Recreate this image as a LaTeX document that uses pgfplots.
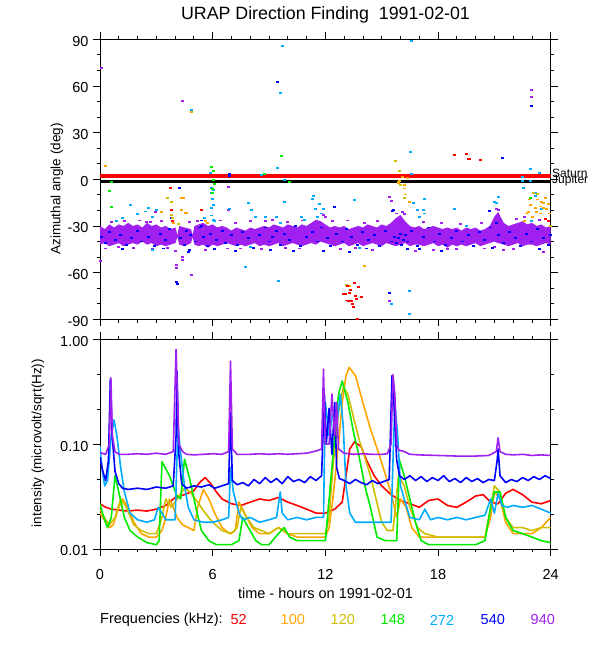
\documentclass[border=0pt]{standalone}
\usepackage{fontspec}
\setmainfont{Liberation Sans}
\usepackage{pgfplots}
\pgfplotsset{compat=1.18}
\usepackage{pgfplotstable}
\definecolor{cA}{RGB}{255,0,0}
\definecolor{cB}{RGB}{255,165,0}
\definecolor{cC}{RGB}{205,190,0}
\definecolor{cD}{RGB}{0,235,0}
\definecolor{cE}{RGB}{0,170,255}
\definecolor{cF}{RGB}{0,0,255}
\definecolor{cG}{RGB}{160,32,240}
\pgfplotsset{
  dm/.style={only marks, mark=-, mark size=1.5pt, mark options={line width=1.9pt}},
  tr/.style={no marks, line width=1.6pt, line join=round},
  common/.style={scale only axis, width=450.7pt, xmin=0, xmax=24,
    xtick={0,6,12,18,24}, minor xtick={0,1,...,24},
    tick align=outside, major tick length=7pt, minor tick length=3.5pt,
    every tick/.style={black, line width=0.8pt},
    axis line style={line width=0.8pt},
    ticklabel style={font=\fontsize{14.5}{16}\selectfont},
    yticklabel style={yshift=-2pt, xshift=-1pt},
    xticklabel style={yshift=-10pt},
    /pgf/number format/assume math mode=true},
}
\pgfplotstableread{
h y
0 -30
0.25 -32
0.5 -29
0.75 -31
1.0 -29
1.25 -30
1.5 -28
1.75 -30
2.0 -29
2.25 -31
2.5 -28
2.75 -30
3.0 -29
3.25 -31
3.5 -30
3.75 -32
4.02 -31
4.12 -36
4.22 -30
4.5 -31
4.85 -32
4.93 -36
5.03 -30
5.25 -29
5.5 -28
5.75 -30
6.0 -29
6.25 -31
6.5 -30
6.75 -31
7.0 -33
7.25 -31
7.5 -32
7.75 -33
8.0 -31
8.25 -32
8.5 -31
8.75 -30
9.0 -31
9.25 -29
9.5 -30
9.75 -31
10.0 -29
10.25 -30
10.5 -31
10.75 -29
11.0 -30
11.25 -28
11.5 -26
11.75 -27
12.0 -29
12.25 -31
12.5 -30
12.75 -31
13.0 -30
13.25 -32
13.5 -31
13.75 -30
14.0 -31
14.25 -29
14.5 -30
14.75 -31
15.0 -29
15.25 -30
15.5 -28
15.75 -25
16.0 -23
16.25 -27
16.5 -30
16.75 -31
17.0 -30
17.25 -32
17.5 -31
17.75 -30
18.0 -31
18.25 -32
18.5 -31
18.75 -32
19.0 -31
19.25 -33
19.5 -31
19.75 -32
20.0 -31
20.25 -33
20.5 -32
20.75 -30
21.0 -24
21.2 -21
21.5 -28
21.75 -30
22.0 -29
22.25 -28
22.5 -27
22.75 -29
23.0 -28
23.25 -30
23.5 -29
23.75 -31
24.0 -30
24.0 -42
23.75 -41
23.5 -42
23.25 -43
23.0 -42
22.75 -42
22.5 -43
22.25 -41
22.0 -42
21.75 -43
21.5 -42
21.2 -41
21.0 -40
20.75 -41
20.5 -42
20.25 -43
20.0 -41
19.75 -42
19.5 -43
19.25 -42
19.0 -43
18.75 -42
18.5 -44
18.25 -42
18.0 -43
17.75 -41
17.5 -42
17.25 -43
17.0 -42
16.75 -42
16.5 -43
16.25 -41
16.0 -42
15.75 -43
15.5 -42
15.25 -41
15.0 -43
14.75 -42
14.5 -41
14.25 -42
14.0 -43
13.75 -41
13.5 -42
13.25 -43
13.0 -41
12.75 -42
12.5 -43
12.25 -42
12.0 -41
11.75 -40
11.5 -42
11.25 -41
11.0 -42
10.75 -43
10.5 -42
10.25 -41
10.0 -42
9.75 -43
9.5 -41
9.25 -42
9.0 -43
8.75 -42
8.5 -43
8.25 -41
8.0 -42
7.75 -43
7.5 -42
7.25 -43
7.0 -42
6.75 -41
6.5 -42
6.25 -43
6.0 -42
5.75 -44
5.5 -42
5.25 -43
5.03 -42
4.93 -37
4.85 -41
4.5 -43
4.22 -42
4.12 -37
4.02 -41
3.75 -42
3.5 -43
3.25 -42
3.0 -43
2.75 -41
2.5 -42
2.25 -40
2.0 -42
1.75 -41
1.5 -42
1.25 -43
1.0 -41
0.75 -42
0.5 -43
0.25 -41
0 -42
}\bandtab
\begin{document}
\begin{tikzpicture}
\useasboundingbox (0pt,0pt) rectangle (600pt,650pt);
% ---------------- top panel
\begin{axis}[common, at={(100pt,330.7pt)}, anchor=south west, height=280pt,
  ymin=-90, ymax=90, ytick={-90,-60,-30,0,30,60,90},
  yticklabels={-90,-60,-30,0,30,60,90}, minor ytick={-80,-70,...,80},
  xticklabels={}]
\addplot[cA, line width=3.6pt, forget plot] coordinates {(0,2.1) (24,2.1)};
\addplot[black, line width=2.8pt, forget plot] coordinates {(0,-1.4) (24,-1.4)};
\addplot[fill=cG, draw=none, forget plot] table[x=h,y=y]{\bandtab} -- cycle;
% purple edge / outliers
\addplot[dm, cG] coordinates {
(0.07,71.4)(4.39,50.5)(22.99,57.2)(22.99,52.7)(0.05,-52.3)(4.0,-45.9)(4.38,-49.8)(4.38,-51.9)
(4.08,-55)(4.05,-57.2)(4.88,-61.7)(6.83,-5)(6.85,-20)(2.93,-20.8)(4.74,-27.2)(15.44,-11.2)
(15.5,-13.8)(15.44,-78.3)(17.75,-45.5)(21.5,-45.5)(12.0,-24)(11.9,-23)(2.5,-27.5)(8.8,-27)
(16.1,-21)(16.2,-22.5)(21.1,-19)(21.2,-20)
(0.6,-27.5)(1.3,-27)(2.1,-26.5)(2.7,-27.5)(3.3,-27)(5.2,-27)(6.4,-26.5)(7.2,-28)(8.0,-27)
(9.2,-26)(10.0,-27.5)(10.8,-26.5)(12.4,-27)(13.2,-26.5)(14.1,-28)(14.8,-27)(17.2,-27.5)
(18.2,-28)(19.2,-29)(20.3,-28)(22.2,-25.5)(22.6,-24.5)(23.4,-26)(11.6,-24.5)(15.8,-22)
(0.3,-44.5)(1.8,-44)(2.8,-45)(5.6,-45.5)(6.8,-44.5)(8.6,-45)(10.6,-44.5)(12.8,-45)(14.5,-45.5)
(16.8,-46)(19.0,-45)(20.5,-44.5)(22.0,-45)(23.6,-46.5)(1.0,-43.5)(3.6,-44)(7.5,-44.5)(9.9,-44)
(13.6,-44)(18.5,-45)(21.0,-43.5)};
% blue 540
\addplot[dm, cF] coordinates {
(0.1,-37)(0.3,-41)(0.5,-34)(0.8,-39)(1.1,-36)(1.4,-42)(1.7,-38)(2.0,-33)(2.2,-40)(2.6,-37)
(2.9,-43)(3.2,-35)(3.5,-39)(3.7,-32)(4.3,-38)(4.5,-42)(4.6,-33)(4.8,-36)(5.1,-40)(5.3,-31)
(5.5,-37)(5.7,-43)(5.9,-35)(6.2,-39)(6.5,-33)(6.7,-41)(7.0,-36)(7.3,-42)(7.6,-34)(7.9,-38)
(8.2,-44)(8.5,-36)(8.8,-31)(9.0,-40)(9.2,-37)(9.4,-33)(9.6,-42)(9.8,-35)(10.1,-39)(10.4,-30)
(10.7,-43)(11.0,-37)(11.3,-34)(11.6,-40)(11.8,-31)(12.1,-38)(12.3,-43)(12.6,-35)(12.9,-40)
(13.1,-32)(13.4,-37)(13.7,-42)(14.0,-34)(14.3,-39)(14.6,-36)(14.9,-43)(15.2,-33)(15.5,-40)
(15.7,-37)(15.8,-41)(15.9,-38)(16.0,-35)(16.05,-42)(16.15,-39)(16.25,-36)(16.35,-40)(16.6,-33)
(16.9,-43)(17.2,-37)(17.5,-31)(17.8,-40)(18.1,-35)(18.4,-42)(18.7,-38)(19.0,-33)(19.3,-40)
(19.6,-36)(19.9,-43)(20.2,-34)(20.5,-39)(20.8,-31)(21.1,-28)(21.2,-36)(21.5,-41)(21.8,-34)
(22.1,-38)(22.4,-43)(22.7,-35)(23.0,-40)(23.3,-32)(23.6,-38)(23.9,-42)(24,-36)
(1.2,-45)(3.4,-44.5)(6.1,-45)(9.1,-45.5)(11.9,-46)(14.2,-44.5)(16.4,-45)(18.2,-46)(20.9,-44)(23.4,-45)
(4.22,-5.8)(6.87,3.4)(6.87,2.1)(9.47,62.3)(22.99,47.1)(4.79,-45.5)(4.15,-67.3)(4.1,-66)
(15.44,-72.9)(12.51,-18)(15.6,-20.2)(15.65,-19.5)(20.73,-20.2)(21.44,13.5)(5.4,-30)(4.7,-46.5)
(7.2,-46)(10.3,-46)(13.3,-46.5)(17,-45)(3.8,-25)(5.4,-26.5)};
% light blue 272
\addplot[dm, cE] coordinates {
(1.65,-16.5)(2.57,-18.6)(2.42,-20.7)(2.0,-22.5)(2.8,-24)(4.87,44.4)(5.59,-25)(5.9,3.9)(5.95,-5.8)
(6.05,-7.0)(5.92,-8.6)(6.0,-12.9)(6.06,-16.5)(5.96,-18.2)(5.93,-23.3)(6.04,-26)(6.1,-27)(6.9,-19)
(7.9,-15)(8.08,-19.7)(8.3,-24)(8.79,-24)(8.6,2.8)(9.46,7.5)(9.62,55.5)(9.71,85.7)(9.85,-0.5)
(9.85,-14.4)(9.4,-24)(9.6,-28)(10.74,-24)(10.9,-26)(11.36,-11)(11.3,-12.5)(11.7,-16)(11.5,-19)
(11.9,-19)(11.6,-24)(11.8,-22)(9.48,-65.2)(7.76,-56.6)(2.79,-45.5)(13.54,-13.3)(16.56,17.6)
(16.6,3.4)(17.27,-12.9)(16.7,-15)(16.9,-20)(17.2,-19.5)(17.3,-22)(17.0,-24)(16.6,89.1)(16.5,-71.6)
(16.5,-86.6)(15.52,-80.2)(18.87,-19.3)(21.2,-11.2)(21.0,-14.6)(21.1,-15.5)(22.54,-5.8)(22.9,6.5)
(23.39,3.9)(22.5,1.5)(22.5,-1.1)(22.95,-1.1)(23.17,-9)(23.2,-11)(22.7,-22)(23.0,-27)(23.5,-19)
(0.9,-27)(1.2,-25)(3.0,-20)(13.8,-44)(19.5,-30)(8.0,-43.5)};
% green 148
\addplot[dm, cD] coordinates {
(0.62,-1.9)(0.51,-7.5)(0.59,-17.6)(5.95,7.7)(6.02,5.5)(6.05,-0.4)(6.08,-3.1)(5.98,-8.6)(6.0,-6)
(8.77,3.2)(9.64,15.0)(10.1,-1.5)(22.93,-12.2)};
% olive 120
\addplot[dm, cC] coordinates {
(3.82,-14.4)(3.83,-22.9)(3.84,-25)(3.6,-12)(15.76,11.8)(15.94,5.3)(15.92,-2.0)(16.0,-3.5)
(16.2,-12)(23.07,-9)(23.3,-9.5)(23.98,-30)(13.1,-68)(4.2,-29)};
% orange 100
\addplot[dm, cB] coordinates {
(0.27,8.7)(3.28,-21.2)(3.9,-27.9)(4.35,-12.2)(4.45,-12.0)(4.35,-19.7)(4.53,-21.8)(4.6,-21.5)
(4.87,43.1)(5.6,-27)(5.7,-28)(13.3,-68.7)(14.11,-55.7)(16.1,1.7)(16.35,1.1)(15.95,-0.9)
(15.9,-2.4)(16.2,-3.4)(16.2,-5.9)(16.25,-9.8)(16.47,-14.4)(22.85,-13)(23.3,-13)(23.5,-14.5)
(23.6,-15.5)(22.95,-16.5)(23.45,-17.5)(23.2,-18.5)(23.6,-18.5)(22.8,-21)(23.25,-21)(23.45,-22)
(22.7,-22)(23.05,-24)(22.6,-27)(23.8,-19)(23.9,-16)(23.95,-22)(23.7,-12)};
% red 52
\addplot[dm, cA] coordinates {
(3.78,-5.8)(3.82,-19.7)(3.85,-26.8)(5.38,-19.7)(13.57,-66.5)(13.75,-69)(13.2,-68.7)(12.96,-73.9)
(13.05,-73.5)(13.3,-73)(13.6,-75)(13.9,-75.6)(13.14,-77.9)(13.25,-78)(13.4,-78.4)(13.65,-77)
(13.5,-82.2)(13.7,-89.7)(13.35,-71)(13.45,-80)(18.9,15.6)(19.49,16)(19.61,12.9)(19.65,13.3)
(20.27,12.4)(23.7,-25.5)(23.9,-27)};
\end{axis}
% ---------------- bottom panel
\begin{axis}[common, at={(100pt,101pt)}, anchor=south west, height=209.7pt,
  ymode=log, ymin=0.01, ymax=1, ytick={0.01,0.1,1}, yticklabels={0.01,0.10,1.00},
  minor ytick={0.0215443,0.0464159,0.215443,0.464159},
  xticklabels={0,6,12,18,24}]
% 52 kHz
\addplot[tr, cA] coordinates {
(0,0.027)(0.3,0.025)(0.6,0.024)(1,0.0235)(1.5,0.023)(2,0.0235)(2.5,0.023)(3,0.024)(3.5,0.026)
(4,0.031)(4.5,0.033)(5,0.036)(5.3,0.043)(5.6,0.048)(5.9,0.042)(6.2,0.035)(6.5,0.03)(7,0.027)
(7.5,0.026)(8,0.028)(8.5,0.03)(9,0.029)(9.5,0.031)(10,0.028)(10.5,0.026)(11,0.024)(11.5,0.022)
(12,0.022)(12.5,0.024)(12.9,0.028)(13.1,0.05)(13.3,0.09)(13.55,0.105)(13.9,0.095)(14.2,0.07)
(14.6,0.05)(15,0.04)(15.5,0.033)(16,0.029)(16.5,0.027)(17,0.025)(17.5,0.029)(18,0.03)(18.5,0.026)
(19,0.025)(19.5,0.028)(20,0.032)(20.4,0.033)(20.8,0.028)(21.2,0.027)(21.6,0.034)(22,0.037)
(22.5,0.033)(23,0.028)(23.5,0.027)(24,0.029)};
% 100 kHz
\addplot[tr, cB] coordinates {
(0,0.022)(0.3,0.018)(0.5,0.016)(0.7,0.017)(1.0,0.025)(1.2,0.03)(1.5,0.025)(1.8,0.018)(2.2,0.014)
(2.6,0.013)(3,0.013)(3.3,0.015)(3.5,0.02)(3.7,0.03)(3.9,0.025)(4.1,0.02)(4.4,0.017)(4.7,0.016)
(5,0.015)(5.2,0.025)(5.5,0.037)(5.8,0.03)(6.1,0.022)(6.5,0.016)(6.9,0.014)(7.2,0.015)(7.4,0.028)
(7.7,0.022)(8.1,0.016)(8.5,0.014)(9,0.014)(9.5,0.016)(10,0.014)(10.5,0.013)(11,0.013)(11.5,0.013)
(12,0.013)(12.2,0.016)(12.4,0.03)(12.7,0.1)(12.9,0.25)(13.1,0.45)(13.27,0.54)(13.6,0.45)
(14,0.25)(14.4,0.14)(14.9,0.076)(15.5,0.034)(15.8,0.02)(16,0.03)(16.3,0.025)(16.6,0.016)
(17,0.013)(18,0.013)(19,0.013)(20,0.013)(20.5,0.013)(20.8,0.02)(21,0.035)(21.3,0.03)(21.6,0.018)
(22,0.014)(22.5,0.014)(23,0.014)(23.5,0.016)(24,0.02)};
% 120 kHz
\addplot[tr, cC] coordinates {
(0,0.024)(0.3,0.019)(0.5,0.017)(0.8,0.02)(1.1,0.03)(1.4,0.025)(1.8,0.017)(2.2,0.015)(2.6,0.014)
(3,0.014)(3.3,0.02)(3.5,0.03)(3.8,0.025)(4.1,0.03)(4.5,0.038)(4.8,0.035)(5.2,0.028)(5.6,0.022)
(6,0.018)(6.5,0.015)(7,0.014)(7.3,0.016)(7.5,0.025)(7.8,0.02)(8.2,0.016)(8.6,0.015)(9,0.014)
(9.5,0.016)(10,0.014)(10.5,0.014)(11,0.014)(11.5,0.014)(12,0.014)(12.2,0.02)(12.4,0.06)
(12.7,0.2)(12.95,0.35)(13.2,0.3)(13.5,0.18)(13.8,0.11)(14.1,0.075)(14.4,0.05)(14.7,0.03)
(15.0,0.018)(15.3,0.015)(15.6,0.015)(15.9,0.05)(16.2,0.04)(16.5,0.025)(16.9,0.016)(17.3,0.014)
(18,0.013)(19,0.013)(20,0.013)(20.5,0.013)(20.8,0.025)(21.0,0.04)(21.3,0.035)(21.6,0.02)
(22,0.016)(22.5,0.016)(23,0.015)(23.5,0.016)(24,0.016)};
% 148 kHz
\addplot[tr, cD] coordinates {
(0,0.027)(0.2,0.02)(0.4,0.016)(0.6,0.02)(0.8,0.05)(1.0,0.035)(1.3,0.02)(1.6,0.015)(2,0.013)
(2.5,0.0115)(3,0.011)(3.15,0.012)(3.3,0.068)(3.7,0.05)(4.1,0.032)(4.3,0.03)(4.5,0.072)(4.8,0.045)
(5.1,0.025)(5.4,0.015)(5.8,0.012)(6.2,0.011)(6.6,0.011)(7,0.011)(7.4,0.012)(7.6,0.02)(7.9,0.016)
(8.3,0.012)(8.6,0.011)(9,0.011)(9.5,0.014)(9.8,0.016)(10.1,0.013)(10.5,0.012)(11,0.012)
(11.5,0.012)(12,0.012)(12.2,0.03)(12.5,0.12)(12.7,0.3)(12.9,0.4)(13.2,0.25)(13.5,0.13)
(13.8,0.076)(14.1,0.04)(14.4,0.025)(14.75,0.013)(15.2,0.012)(15.8,0.012)(15.95,0.07)(16.2,0.05)
(16.5,0.03)(16.8,0.018)(17.1,0.012)(17.5,0.011)(18,0.011)(19,0.011)(20,0.011)(20.5,0.012)
(20.8,0.025)(21.0,0.035)(21.3,0.035)(21.6,0.02)(22,0.015)(22.5,0.014)(23,0.013)(23.5,0.012)
(24,0.0115)};
% 272 kHz
\addplot[tr, cE] coordinates {
(0,0.095)(0.1,0.06)(0.25,0.04)(0.4,0.045)(0.6,0.12)(0.75,0.17)(0.9,0.12)(1.1,0.06)(1.3,0.035)
(1.6,0.022)(2,0.019)(2.5,0.018)(2.9,0.019)(3.1,0.025)(3.3,0.022)(3.5,0.019)(4,0.019)(4.15,0.15)
(4.3,0.08)(4.5,0.04)(4.7,0.025)(5,0.019)(5.5,0.018)(6,0.018)(6.5,0.019)(6.85,0.02)(6.95,0.06)
(7.1,0.035)(7.4,0.022)(7.6,0.019)(8,0.02)(8.5,0.018)(9,0.019)(9.4,0.02)(9.6,0.035)(9.7,0.022)
(10,0.019)(10.5,0.02)(11,0.019)(11.5,0.02)(11.9,0.02)(12.0,0.25)(12.2,0.12)(12.4,0.2)(12.6,0.15)
(12.8,0.3)(12.95,0.15)(13.1,0.04)(13.3,0.022)(13.6,0.018)(14,0.018)(14.5,0.018)(15,0.018)
(15.5,0.018)(15.7,0.25)(15.85,0.12)(16,0.04)(16.2,0.03)(16.5,0.02)(17,0.019)(17.3,0.024)
(17.6,0.019)(18,0.02)(18.5,0.019)(19,0.02)(19.5,0.019)(20,0.02)(20.5,0.021)(20.8,0.03)
(21.0,0.022)(21.2,0.034)(21.4,0.026)(21.7,0.025)(22,0.026)(22.5,0.025)(23,0.026)(23.5,0.024)
(24,0.022)};
% 540 kHz
\addplot[tr, cF] coordinates {
(0,0.075)(0.15,0.055)(0.3,0.045)(0.45,0.07)(0.55,0.42)(0.65,0.12)(0.8,0.055)(1.0,0.042)
(1.2,0.038)(1.5,0.037)(2.0,0.038)(2.5,0.037)(3.0,0.039)(3.5,0.038)(3.9,0.04)(4.05,0.12)
(4.1,0.5)(4.2,0.08)(4.35,0.042)(4.6,0.038)(5.0,0.04)(5.4,0.039)(5.8,0.041)(6.1,0.038)(6.5,0.04)
(6.85,0.042)(6.95,0.2)(7.05,0.045)(7.3,0.041)(7.6,0.043)(7.9,0.04)(8.2,0.046)(8.5,0.042)
(8.8,0.048)(9.1,0.043)(9.4,0.047)(9.7,0.042)(10.0,0.049)(10.3,0.044)(10.6,0.046)(10.9,0.043)
(11.2,0.049)(11.5,0.045)(11.8,0.05)(11.95,0.3)(12.05,0.1)(12.2,0.22)(12.35,0.08)(12.5,0.25)
(12.6,0.06)(12.75,0.047)(13.0,0.045)(13.3,0.042)(13.6,0.046)(13.9,0.043)(14.2,0.041)(14.5,0.045)
(14.8,0.042)(15.1,0.044)(15.4,0.046)(15.55,0.45)(15.65,0.25)(15.8,0.07)(15.95,0.05)(16.2,0.046)
(16.5,0.05)(16.8,0.045)(17.1,0.049)(17.4,0.044)(17.7,0.048)(18.0,0.045)(18.3,0.05)(18.6,0.044)
(18.9,0.047)(19.2,0.043)(19.5,0.048)(19.8,0.044)(20.1,0.047)(20.4,0.043)(20.7,0.046)(21.0,0.045)
(21.15,0.07)(21.2,0.09)(21.3,0.05)(21.6,0.043)(21.9,0.046)(22.2,0.044)(22.5,0.048)(22.8,0.045)
(23.1,0.049)(23.4,0.046)(23.7,0.05)(24.0,0.047)};
% 940 kHz
\addplot[tr, cG] coordinates {
(0,0.083)(0.3,0.08)(0.5,0.1)(0.58,0.43)(0.66,0.12)(0.8,0.085)(1.0,0.08)(1.5,0.08)(2,0.081)
(2.5,0.08)(3,0.082)(3.5,0.08)(3.9,0.085)(4.05,0.8)(4.2,0.1)(4.4,0.085)(4.6,0.08)(5,0.079)
(5.5,0.08)(6,0.081)(6.5,0.08)(6.85,0.085)(6.95,0.62)(7.05,0.09)(7.3,0.08)(8,0.08)(8.5,0.081)
(9,0.08)(9.5,0.081)(10,0.08)(10.5,0.081)(11,0.082)(11.5,0.086)(11.8,0.09)(11.9,0.52)(12.0,0.1)
(12.2,0.1)(12.35,0.3)(12.5,0.12)(12.6,0.25)(12.7,0.09)(13,0.082)(13.5,0.08)(14,0.081)(14.5,0.08)
(15,0.08)(15.3,0.081)(15.5,0.1)(15.6,0.46)(15.7,0.3)(15.8,0.1)(15.9,0.088)(16.2,0.085)(16.5,0.08)
(17,0.079)(18,0.078)(19,0.077)(20,0.077)(20.7,0.078)(21.1,0.085)(21.2,0.115)(21.3,0.085)
(21.6,0.08)(22,0.079)(22.5,0.08)(23,0.078)(23.5,0.079)(24,0.078)};
\end{axis}
% ---------------- texts
\node[font=\fontsize{17.8}{19}\selectfont] at (325.5pt,635pt) {URAP Direction Finding\ \ 1991-02-01};
\node[rotate=90, font=\fontsize{13.5}{15}\selectfont] at (57pt,461pt) {Azimuthal angle (deg)};
\node[rotate=90, font=\fontsize{13.5}{15}\selectfont] at (38pt,207pt) {intensity (microvolt/sqrt(Hz))};
\node[font=\fontsize{14.5}{16}\selectfont] at (325.5pt,56.7pt) {time - hours on 1991-02-01};
\node[anchor=west, font=\fontsize{12}{13}\selectfont, inner sep=0pt] at (552pt,477pt) {Saturn};
\node[anchor=west, font=\fontsize{12}{13}\selectfont, inner sep=0pt] at (552pt,469.5pt) {Jupiter};
\begin{scope}[every node/.style={font=\fontsize{14.5}{16}\selectfont}]
\node at (161.4pt,30pt) {Frequencies (kHz):};
\node[text=cA] at (238.6pt,30pt) {52};
\node[text=cB] at (292.8pt,30pt) {100};
\node[text=cC] at (342.8pt,30pt) {120};
\node[text=cD] at (392.8pt,30pt) {148};
\node[text=cE] at (442pt,30pt) {272};
\node[text=cF] at (492.8pt,30pt) {540};
\node[text=cG] at (542.8pt,30pt) {940};
\end{scope}
\end{tikzpicture}
\end{document}
